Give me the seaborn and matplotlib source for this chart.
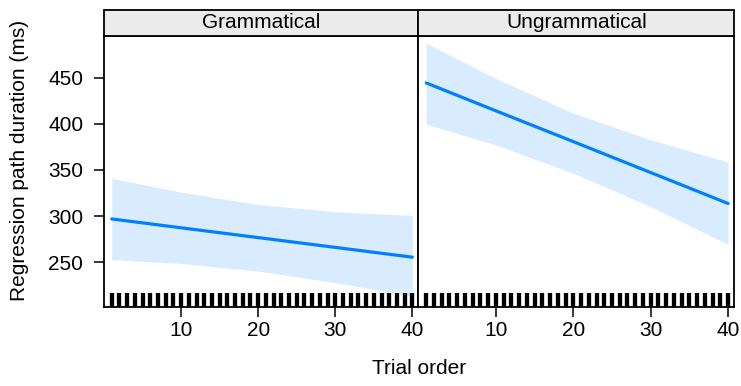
import numpy as np
import pandas as pd
import matplotlib
matplotlib.use("Agg")
import matplotlib.pyplot as plt
import seaborn as sns
from matplotlib.patches import Rectangle

# ---- data ----
conditions = ["Grammatical", "Ungrammatical"]
trial_points = [1, 10, 20, 30, 40]
gram_fit = [297.0, 287.4, 276.8, 266.2, 255.6]
gram_upper = [341.0, 326.0, 312.7, 304.8, 300.8]
gram_lower = [253.0, 248.8, 240.5, 228.0, 213.5]
ungram_fit = [444.2, 414.0, 380.7, 347.2, 313.7]
ungram_upper = [487.2, 449.0, 411.5, 382.7, 358.6]
ungram_lower = [399.6, 377.0, 346.4, 310.3, 269.4]
rug_trials = list(range(1, 41))
x_ticks = [10, 20, 30, 40]
y_ticks = [250, 300, 350, 400, 450]

fits = {"Grammatical": (gram_fit, gram_lower, gram_upper),
        "Ungrammatical": (ungram_fit, ungram_lower, ungram_upper)}

sns.set_theme(style="white")
plt.rcParams['font.family'] = ['Liberation Sans', 'DejaVu Sans']
plt.rcParams.update({"text.color": "black", "axes.labelcolor": "black",
                     "xtick.color": "black", "ytick.color": "black"})

rows = []
for c in conditions:
    f, lo, up = fits[c]
    for x, a, b, u in zip(trial_points, f, lo, up):
        rows.append({"condition": c, "trial": x, "fit": a, "lower": b, "upper": u})
df = pd.DataFrame(rows)

W, H = 741, 386
fig = plt.figure(figsize=(W / 100, H / 100), dpi=100)
panel_px = [(104, 418.5), (418.5, 734.3)]
top_px, bot_px = 36, 306.7
strip_h = 26 / (bot_px - top_px)

line_col = "#0080FF"
for i, (c, (l, r)) in enumerate(zip(conditions, panel_px)):
    ax = fig.add_axes([l / W, 1 - bot_px / H, (r - l) / W, (bot_px - top_px) / H])
    sub = df[df["condition"] == c]
    sns.rugplot(x=rug_trials, height=0.05, color="black", linewidth=3.1,
                expand_margins=False, ax=ax)
    ax.fill_between(sub["trial"], sub["lower"], sub["upper"], color=line_col,
                    alpha=0.15, linewidth=0, zorder=2)
    sns.lineplot(data=sub, x="trial", y="fit", color=line_col, linewidth=2.3,
                 ax=ax, zorder=3)
    ax.set_xlim(0.0, 40.8)
    ax.set_ylim(202, 495)
    ax.set_xticks(x_ticks)
    ax.set_xticklabels([str(t) for t in x_ticks])
    ax.set_yticks(y_ticks)
    ax.set_yticklabels([str(t) for t in y_ticks])
    ax.set_xlabel("")
    ax.set_ylabel("")
    for s in ax.spines.values():
        s.set_visible(True)
        s.set_color("black")
        s.set_linewidth(1.3)
    ax.tick_params(axis="x", which="both", bottom=True, top=False, direction="out",
                   length=7, width=1.1, color="black", labelcolor="black",
                   labelsize=15, pad=3)
    if i == 0:
        ax.tick_params(axis="y", left=True, right=False, direction="out",
                       length=7, width=1.1, color="black", labelcolor="black",
                       labelsize=15, pad=8)
    else:
        ax.tick_params(axis="y", left=False, right=False, labelleft=False)
    ax.grid(False)
    # strip
    ax.add_patch(Rectangle((0, 1), 1, strip_h, transform=ax.transAxes,
                           facecolor="#ECECEC", edgecolor="black", linewidth=1.3,
                           clip_on=False, zorder=5))
    ax.text(0.5, 1 + strip_h / 2, c, transform=ax.transAxes, ha="center",
            va="center", fontsize=15, color="black", zorder=6)

fig.text(20 / W, 1 - 160 / H, "Regression path duration (ms)", rotation=90,
         ha="center", va="center", fontsize=15, color="black")
fig.text(419 / W, 1 - 369 / H, "Trial order", ha="center", va="center",
         fontsize=15, color="black")

fig.savefig("out.png", dpi=100)
